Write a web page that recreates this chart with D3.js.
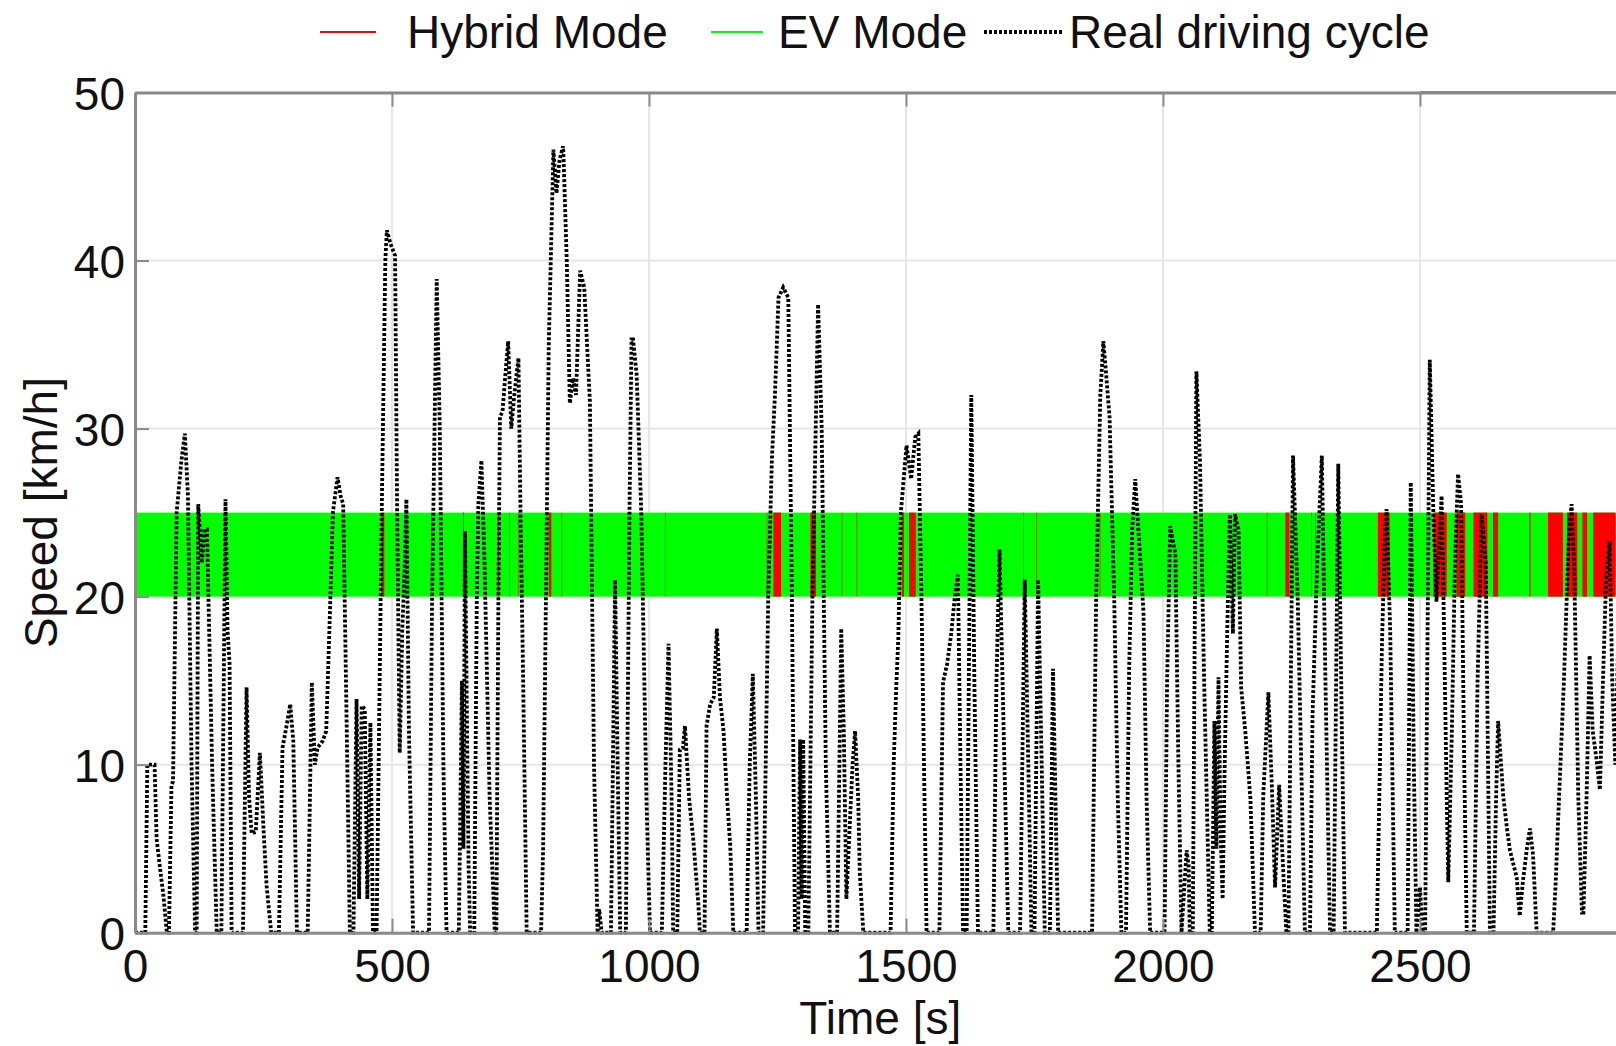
<!DOCTYPE html>
<html>
<head>
<meta charset="utf-8">
<script src="https://cdn.jsdelivr.net/npm/d3@7"></script>
<style>
body { margin: 0; background: #fff; }
svg { display: block; font-family: "Liberation Sans", Arial, sans-serif; }
</style>
</head>
<body>
<div id="chart"></div>
<script>
// axis ticks (3000 sits past the right edge of the picture, so no label there)
var xTicks = [0, 500, 1000, 1500, 2000, 2500];
var xGrid = [0, 500, 1000, 1500, 2000, 2500, 3000];
var yTicks = [0, 10, 20, 30, 40, 50];
var legendLabels = ["Hybrid Mode", "EV Mode", "Real driving cycle"];

// mode strip drawn between these speeds
var modeBand = [20, 25];

// time windows [start, end] (s) where the hybrid mode is on; the rest is EV
var hybridOn = [
  [479, 485], [577, 578], [638, 640], [706, 708], [728, 729], [745, 746], [805, 810], [830, 831],
  [1031, 1032], [1229, 1230], [1242, 1257], [1314, 1325], [1375, 1376], [1404, 1405],
  [1492, 1496], [1506, 1519], [1728, 1729], [1754, 1755], [1877, 1878],
  [2202, 2203], [2238, 2246], [2288, 2289], [2296, 2297], [2418, 2441],
  [2526, 2552], [2571, 2588], [2604, 2631], [2642, 2652], [2713, 2715],
  [2749, 2778], [2786, 2806], [2816, 2825], [2837, 2880]
];

// real driving cycle, [time s, speed km/h]
var cycle = [
  [0,0],[20,0],[24,10],[38,10],[42,5.6],[50,3.5],[55,2.3],[62,0],
  [66,0],[71,8.8],[74,9],[81,25],[90,28],[97,29.7],[103,26],[110,10],[117,0],
  [120,0],[123,25.5],[130,22],[135,24],[140,24],[150,10],[159,0],
  [168,0],[173,16],[176,25.8],[180,18],[184,16],[188,0],
  [210,0],[217,14.6],[222,8],[227,5.9],[235,6],[243,10.7],[250,6.2],[256,2.8],[265,0],
  [280,0],[287,11],[296,12.5],[302,13.6],[308,11.4],[315,0],
  [336,0],[344,14.9],[350,10],[355,11],[365,11.4],[372,12],[379,18.8],[385,25],[394,27.1],[400,26],[405,25.5],[412,12],[418,0],
  [425,0],[431,13.9],[436,2],[441,13.5],[447,13.3],[452,2],[458,12.5],[463,0],
  [470,0],[480,25],[487,40],[490,41.8],[497,41],[506,40.3],[510,25],[515,10.7],[520,18],[525,22],[528,25.8],[533,12],[541,0],
  [572,0],[578,20],[587,38.9],[593,30],[600,10],[606,0],
  [630,0],[636,15],[639,5],[642,23.9],[646,12],[649,4],[652,0],
  [660,0],[665,20],[668,25.5],[674,28.1],[680,22],[690,8],[700,0],
  [703,0],[707,20],[710,30.7],[715,31],[720,33],[726,35.2],[732,30],[738,32],[746,34.2],[750,25],[755,15.4],[762,0],
  [790,0],[794,5],[805,35],[814,46.6],[820,44],[826,46],[833,46.8],[840,40],[846,31.5],[852,33],[858,32],[866,39.4],[874,38.4],[885,31.6],[893,10],[900,0],[903,1.4],[908,0],
  [926,0],[934,21],[939,10],[944,0],
  [955,0],[962,25],[966,35.3],[969,35.3],[976,33.2],[985,25],[995,8],[1002,0],
  [1025,0],[1032,10],[1038,17.2],[1044,8],[1047,0],
  [1055,0],[1060,10.9],[1066,11],[1070,12.3],[1078,8],[1086,5.6],[1096,1.7],[1099,0],
  [1108,0],[1112,12.3],[1119,13.6],[1126,14],[1132,18.1],[1138,14],[1145,12],[1152,8],[1158,5.2],[1164,0],
  [1190,0],[1196,10],[1202,15.4],[1208,8],[1213,0],
  [1222,0],[1232,20],[1239,28.1],[1245,32],[1252,37.8],[1261,38.4],[1271,37.8],[1278,20],[1284,0],
  [1290,0],[1294,11.5],[1297,2],[1300,11.5],[1304,0],
  [1310,0],[1318,20],[1329,37.4],[1336,30],[1344,10],[1352,0],
  [1366,0],[1374,18.1],[1379,12],[1384,2],[1390,6],[1396,10],[1401,12],[1407,8],[1410,3.6],[1417,0],
  [1470,0],[1476,10],[1481,14.6],[1485,17.5],[1490,25],[1501,29],[1510,27],[1518,29.5],[1524,29.7],[1530,20],[1540,0],
  [1565,0],[1572,14.9],[1580,16],[1588,17.8],[1595,20],[1601,21.3],[1606,10],[1611,0],
  [1618,0],[1627,32],[1633,15],[1640,0],
  [1670,0],[1676,15],[1682,22.8],[1690,12],[1699,0],
  [1722,0],[1731,21],[1738,10],[1744,0],
  [1750,0],[1757,21],[1764,10],[1770,0],
  [1780,0],[1786,15.7],[1792,6],[1796,0],
  [1862,0],[1870,20],[1878,32],[1884,35.2],[1890,33],[1896,30.7],[1905,20],[1912,8],[1919,0],
  [1928,0],[1932,10],[1934,15.5],[1940,24],[1946,27],[1952,24],[1962,19.1],[1968,8],[1975,0],
  [2003,0],[2008,15],[2014,24.2],[2024,22.6],[2030,10],[2036,0],[2040,2],[2046,4.9],[2050,4],[2052,0],
  [2058,0],[2065,33.4],[2072,28],[2080,15],[2091,0],
  [2095,0],[2100,12.6],[2104,5],[2108,15.2],[2112,6],[2116,2],[2120,10],[2125,18],[2130,24.9],[2136,17.8],[2140,24.9],[2147,24],[2152,14.6],[2160,12],[2170,8],[2179,0],
  [2190,0],[2195,8.1],[2205,14.3],[2212,8.5],[2218,2.7],[2226,8.8],[2234,3.6],[2240,0],
  [2244,0],[2253,28.4],[2262,20],[2276,0],
  [2286,0],[2291,13],[2300,22],[2309,28.4],[2316,15],[2325,0],
  [2332,0],[2341,27.9],[2348,12],[2354,0],
  [2416,0],[2422,10],[2426,17.2],[2432,24],[2435,25.2],[2442,18],[2451,0],
  [2476,0],[2482,26.8],[2488,10],[2493,0],[2500,2.7],[2505,0],
  [2510,0],[2519,34.1],[2526,25],[2532,19.7],[2542,26],[2546,19.4],[2552,8],[2555,3],[2562,12],[2568,22],[2574,27.3],[2580,25.5],[2586,10],[2591,0],
  [2605,0],[2612,15],[2620,24.9],[2628,22],[2636,0],
  [2643,0],[2648,8],[2652,12.6],[2662,8.1],[2670,6],[2675,4.9],[2688,3.3],[2694,1],[2700,3],[2708,5],[2714,6.2],[2720,4.6],[2727,0],
  [2759,0],[2764,3],[2769,6.9],[2780,15],[2790,24],[2795,25.5],[2800,21.7],[2808,8],[2815,1.2],[2818,1.2],[2824,8],[2830,16.5],[2836,12],[2843,10.4],[2850,8.5],[2856,15],[2862,21],[2869,23.3],[2874,15],[2880,10],[2886,18]
];

var W = 1616, H = 1046;
var margin = { top: 92.5, left: 135 };
var plotW = 1542, plotH = 840.2;
var FONT = 46;

var svg = d3.select("#chart").append("svg")
  .attr("width", W)
  .attr("height", H);

var x = d3.scaleLinear().domain([0, 3000]).range([0, plotW]);
var y = d3.scaleLinear().domain([0, 50]).range([plotH, 0]);

var g = svg.append("g")
  .attr("transform", "translate(" + margin.left + "," + margin.top + ")");

svg.append("defs").append("clipPath").attr("id", "plotclip")
  .append("rect").attr("x", 0).attr("y", -2).attr("width", plotW).attr("height", plotH + 4);

// grid
g.append("g").selectAll("line").data(yTicks).enter().append("line")
  .attr("x1", 0).attr("x2", plotW)
  .attr("y1", function (d) { return y(d); }).attr("y2", function (d) { return y(d); })
  .style("stroke", "#e6e6e6").style("stroke-width", 2);
g.append("g").selectAll("line").data(xGrid).enter().append("line")
  .attr("x1", function (d) { return x(d); }).attr("x2", function (d) { return x(d); })
  .attr("y1", 0).attr("y2", plotH)
  .style("stroke", "#e6e6e6").style("stroke-width", 2);

var plot = g.append("g").attr("clip-path", "url(#plotclip)");

// EV strip, hybrid windows over it
plot.append("rect")
  .attr("x", x(0)).attr("width", x(3000) - x(0))
  .attr("y", y(modeBand[1])).attr("height", y(modeBand[0]) - y(modeBand[1]))
  .style("fill", "#00ff00");
plot.selectAll(".hyb").data(hybridOn).enter().append("rect")
  .attr("class", "hyb")
  .attr("x", function (d) { return x(d[0]); })
  .attr("width", function (d) { return x(d[1]) - x(d[0]); })
  .attr("y", y(modeBand[1])).attr("height", y(modeBand[0]) - y(modeBand[1]))
  .style("fill", "#ff0000");

// driving cycle
var line = d3.line()
  .x(function (d) { return x(d[0]); })
  .y(function (d) { return y(d[1]); });
plot.append("path").datum(cycle)
  .attr("d", line)
  .style("fill", "none")
  .style("stroke", "#000")
  .style("stroke-width", 3.8)
  .style("stroke-dasharray", "3,2");

// axes, ticks inside like matlab
var xAxis = g.append("g")
  .attr("transform", "translate(0," + plotH + ")")
  .call(d3.axisBottom(x).tickValues(xTicks).tickFormat(d3.format("d")).tickSizeInner(-14).tickSizeOuter(0).tickPadding(17));
var yAxis = g.append("g")
  .call(d3.axisLeft(y).tickValues(yTicks).tickSizeInner(-14).tickSizeOuter(0).tickPadding(10));
var topAxis = g.append("g")
  .call(d3.axisTop(x).tickValues(xTicks).tickFormat("").tickSizeInner(-14).tickSizeOuter(0));

[xAxis, yAxis, topAxis].forEach(function (a) {
  a.select(".domain").style("stroke", "#8a8a8a").style("stroke-width", 3);
  a.selectAll(".tick line").style("stroke", "#8a8a8a").style("stroke-width", 2);
  a.selectAll("text").style("font-size", FONT + "px").style("fill", "#111")
    .style("font-family", '"Liberation Sans", Arial, sans-serif');
});
yAxis.selectAll("text").attr("dy", "0.36em");
// axis lines run on past the picture edge
xAxis.append("line").attr("x1", x(2500)).attr("x2", plotW).style("stroke", "#8a8a8a").style("stroke-width", 3);
topAxis.append("line").attr("x1", x(2500)).attr("x2", plotW).style("stroke", "#8a8a8a").style("stroke-width", 3);

// axis titles
svg.append("text")
  .attr("x", margin.left + x(1450)).attr("y", 1034)
  .attr("text-anchor", "middle")
  .style("font-size", FONT + "px").style("fill", "#111")
  .text("Time [s]");
svg.append("text")
  .attr("transform", "translate(57," + (margin.top + y(25)) + ") rotate(-90)")
  .attr("text-anchor", "middle")
  .style("font-size", FONT + "px").style("fill", "#111")
  .text("Speed [km/h]");

// legend
var leg = svg.append("g");
var legY = 32;
leg.append("line").attr("x1", 320).attr("x2", 376).attr("y1", legY).attr("y2", legY)
  .style("stroke", "#ff0000").style("stroke-width", 2);
leg.append("text").attr("x", 407).attr("y", legY + 16)
  .style("font-size", FONT + "px").style("fill", "#111").text(legendLabels[0]);
leg.append("line").attr("x1", 711).attr("x2", 763).attr("y1", legY).attr("y2", legY)
  .style("stroke", "#00ff00").style("stroke-width", 2);
leg.append("text").attr("x", 778).attr("y", legY + 16)
  .style("font-size", FONT + "px").style("fill", "#111").text(legendLabels[1]);
leg.append("line").attr("x1", 984).attr("x2", 1062).attr("y1", legY).attr("y2", legY)
  .style("stroke", "#000").style("stroke-width", 3.8).style("stroke-dasharray", "3,2");
leg.append("text").attr("x", 1069).attr("y", legY + 16)
  .style("font-size", FONT + "px").style("fill", "#111").text(legendLabels[2]);
</script>
</body>
</html>
